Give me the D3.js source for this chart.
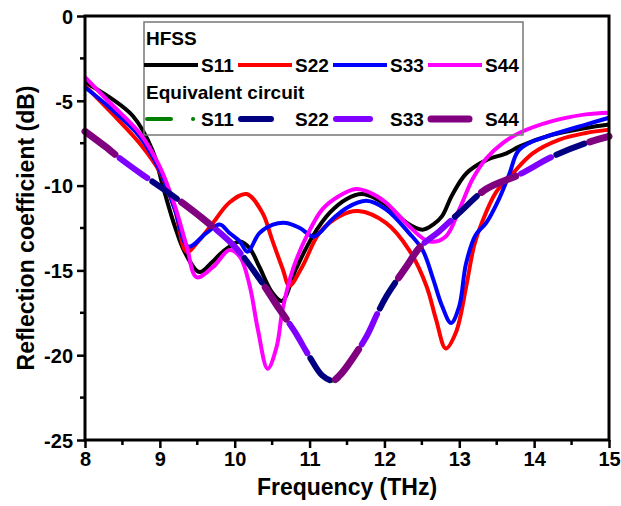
<!DOCTYPE html>
<html lang="en">
<head>
<meta charset="UTF-8">
<title>Reflection coefficient</title>
<style>
    body { margin: 0; background: #fff; }
    svg text { font-family: "Liberation Sans", Arial, sans-serif; font-weight: bold; fill: #000; }
    .line { fill: none; }
</style>
</head>
<body>
<svg id="chart" width="621" height="506"></svg>
<script src="https://d3js.org/d3.v7.min.js"></script>
<script>
// HFSS simulated curves, [frequency THz, dB]
const hfssS11 = [[8,-3.9],[8.33,-4.8],[8.64,-5.9],[8.9,-7.9],[9.05,-10.2],[9.2,-12.4],[9.33,-13.9],[9.53,-15.1],[9.7,-14.5],[9.84,-13.9],[10.07,-13.3],[10.2,-13.7],[10.33,-14.8],[10.5,-16.3],[10.63,-16.8],[10.82,-14.9],[11.04,-13.0],[11.27,-11.6],[11.49,-10.8],[11.7,-10.5],[11.9,-10.8],[12.1,-11.4],[12.3,-12.2],[12.51,-12.6],[12.65,-12.3],[12.77,-11.8],[12.9,-10.6],[13.09,-9.3],[13.36,-8.5],[13.63,-8.1],[13.8,-7.7],[14.24,-7.0],[14.69,-6.6],[15,-6.4]];
const hfssS22 = [[8,-4.1],[8.33,-5.6],[8.73,-7.5],[9.0,-9.2],[9.2,-11.4],[9.36,-13.9],[9.53,-13.2],[9.71,-12.2],[9.93,-11.0],[10.16,-10.5],[10.37,-11.6],[10.5,-13.2],[10.64,-14.9],[10.73,-15.9],[10.9,-14.8],[11.13,-12.8],[11.4,-11.8],[11.65,-11.5],[12.02,-12.2],[12.33,-13.8],[12.56,-15.9],[12.69,-17.9],[12.82,-19.6],[12.96,-18.6],[13.09,-16.0],[13.2,-13.5],[13.3,-12.2],[13.49,-10.4],[13.71,-9.3],[13.98,-8.1],[14.33,-7.3],[14.69,-6.9],[15,-6.7]];
const hfssS33 = [[8,-4.2],[8.33,-5.4],[8.73,-7.1],[9.0,-9.1],[9.2,-11.4],[9.38,-13.6],[9.62,-12.8],[9.8,-12.3],[9.93,-12.8],[10.07,-13.3],[10.17,-13.9],[10.33,-12.8],[10.51,-12.3],[10.69,-12.2],[10.87,-12.5],[11.06,-13.0],[11.3,-12.0],[11.5,-11.3],[11.76,-10.9],[12.02,-11.4],[12.33,-12.8],[12.51,-13.8],[12.65,-15.5],[12.77,-17.1],[12.89,-18.1],[13.0,-17.1],[13.09,-14.6],[13.22,-12.9],[13.36,-12.2],[13.53,-10.8],[13.67,-9.3],[13.78,-8.0],[13.93,-7.5],[14.24,-7.0],[14.69,-6.4],[15,-6.0]];
const hfssS44 = [[8,-3.6],[8.33,-5.1],[8.73,-6.9],[9.0,-8.9],[9.2,-11.2],[9.36,-13.6],[9.49,-15.4],[9.71,-14.8],[9.93,-13.8],[10.07,-14.2],[10.2,-15.9],[10.31,-18.5],[10.44,-20.8],[10.56,-19.5],[10.64,-17.3],[10.78,-14.9],[10.96,-13.0],[11.17,-11.4],[11.4,-10.6],[11.62,-10.2],[11.8,-10.4],[12.02,-11.0],[12.33,-12.4],[12.6,-13.3],[12.82,-13.0],[13.0,-11.4],[13.18,-9.6],[13.36,-8.4],[13.58,-7.5],[13.8,-6.9],[14.24,-6.2],[14.69,-5.8],[15,-5.7]];

// equivalent circuit result (the four ports coincide)
const circuit = [[8,-6.8],[8.29,-7.76],[8.44,-8.3],[8.73,-9.24],[9.11,-10.4],[9.56,-11.9],[10.0,-13.6],[10.33,-15.5],[10.6,-17.3],[10.8,-18.6],[11.0,-20.1],[11.17,-21.2],[11.31,-21.5],[11.4,-21.2],[11.51,-20.6],[11.76,-18.9],[11.91,-17.5],[12.03,-16.5],[12.29,-14.8],[12.48,-13.6],[12.73,-12.7],[13.0,-11.6],[13.36,-10.2],[13.8,-9.35],[14.24,-8.3],[14.69,-7.5],[15,-7.1]];

const xTicks = [8, 9, 10, 11, 12, 13, 14, 15];
const yTicks = [0, -5, -10, -15, -20, -25];

const hfss = [
    {name: 'S11', data: hfssS11, color: '#000000'},
    {name: 'S22', data: hfssS22, color: '#ff0000'},
    {name: 'S33', data: hfssS33, color: '#0000ff'},
    {name: 'S44', data: hfssS44, color: '#ff00ff'}
];
// dashes interleave along the shared curve (period 120)
const equiv = [
    {name: 'S11', data: circuit, color: '#008000', width: 4, dash: '24,22,0.1,73.9', offset: 10},
    {name: 'S22', data: circuit, color: '#000080', width: 6, dash: '30,90', offset: 36},
    {name: 'S33', data: circuit, color: '#8000ff', width: 6, dash: '34,86', offset: 76},
    {name: 'S44', data: circuit, color: '#800080', width: 7, dash: '38,82', offset: 0}
];

const svg = d3.select('#chart');
const mLeft = 85, mRight = 609, mTop = 16, mBottom = 440;

const x = d3.scaleLinear().domain([8, 15]).range([mLeft, mRight]);
const y = d3.scaleLinear().domain([-25, 0]).range([mBottom, mTop]);

const line = d3.line()
    .x(d => x(d[0]))
    .y(d => y(d[1]))
    .curve(d3.curveCatmullRom.alpha(0.5));

const plot = svg.append('g');

plot.selectAll('.hfss')
    .data(hfss)
    .enter().append('path')
    .attr('class', 'line hfss')
    .attr('d', d => line(d.data))
    .attr('stroke', d => d.color)
    .attr('stroke-width', 4);

plot.selectAll('.equiv')
    .data(equiv)
    .enter().append('path')
    .attr('class', 'line equiv')
    .attr('d', d => line(d.data))
    .attr('stroke', d => d.color)
    .attr('stroke-width', d => d.width)
    .attr('stroke-linecap', 'round')
    .attr('stroke-dasharray', d => d.dash)
    .attr('stroke-dashoffset', d => d.offset);

// axes
const xAxis = d3.axisBottom(x).tickValues(xTicks).tickFormat(d => String(d)).tickSize(8).tickPadding(4);
const yAxis = d3.axisLeft(y).tickValues(yTicks).tickFormat(d => String(d)).tickSize(8).tickPadding(4);

const gx = svg.append('g').attr('transform', `translate(0,${mBottom})`).call(xAxis);
const gy = svg.append('g').attr('transform', `translate(${mLeft},0)`).call(yAxis);

[gx, gy].forEach(g => {
    g.select('.domain').remove();
    g.selectAll('line').attr('stroke', '#000').attr('stroke-width', 2.5);
    g.selectAll('text').style('font-size', '20px');
});
gx.selectAll('text').attr('dy', '0.72em');
gy.selectAll('text').attr('dy', '0.36em');

// minor ticks
svg.append('g').selectAll('line')
    .data(d3.range(8.5, 15, 1))
    .enter().append('line')
    .attr('x1', d => x(d)).attr('x2', d => x(d))
    .attr('y1', mBottom).attr('y2', mBottom + 5)
    .attr('stroke', '#000').attr('stroke-width', 2.5);
svg.append('g').selectAll('line')
    .data(d3.range(-22.5, 0, 5))
    .enter().append('line')
    .attr('y1', d => y(d)).attr('y2', d => y(d))
    .attr('x1', mLeft).attr('x2', mLeft - 5)
    .attr('stroke', '#000').attr('stroke-width', 2.5);

// frame
svg.append('rect')
    .attr('x', mLeft).attr('y', mTop)
    .attr('width', mRight - mLeft).attr('height', mBottom - mTop)
    .attr('fill', 'none').attr('stroke', '#000').attr('stroke-width', 3);

svg.append('text')
    .attr('x', (mLeft + mRight) / 2).attr('y', 495)
    .attr('text-anchor', 'middle')
    .style('font-size', '23px')
    .text('Frequency (THz)');

svg.append('text')
    .attr('transform', `translate(34,${(mTop + mBottom) / 2}) rotate(-90)`)
    .attr('text-anchor', 'middle')
    .style('font-size', '23px')
    .text('Reflection coefficient (dB)');

// legend
const legend = svg.append('g');
legend.append('rect')
    .attr('x', 144).attr('y', 22).attr('width', 379).attr('height', 113)
    .attr('fill', 'none').attr('stroke', '#777').attr('stroke-width', 1.5);

legend.append('text').attr('x', 146).attr('y', 45).style('font-size', '19px').text('HFSS');
legend.append('text').attr('x', 146).attr('y', 99).style('font-size', '19px').text('Equivalent circuit');

const slotX = [144, 238, 333, 428];
hfss.forEach((s, i) => {
    legend.append('line')
        .attr('x1', slotX[i]).attr('x2', slotX[i] + 54)
        .attr('y1', 65).attr('y2', 65)
        .attr('stroke', s.color).attr('stroke-width', 4);
    legend.append('text').attr('x', slotX[i] + 57).attr('y', 72).style('font-size', '19px').text(s.name);
});
equiv.forEach((s, i) => {
    legend.append('line')
        .attr('x1', slotX[i] + 3).attr('x2', slotX[i] + 51)
        .attr('y1', 119).attr('y2', 119)
        .attr('stroke', s.color).attr('stroke-width', s.width)
        .attr('stroke-linecap', 'round')
        .attr('stroke-dasharray', s.dash);
    legend.append('text').attr('x', slotX[i] + 57).attr('y', 126).style('font-size', '19px').text(s.name);
});
</script>
</body>
</html>
